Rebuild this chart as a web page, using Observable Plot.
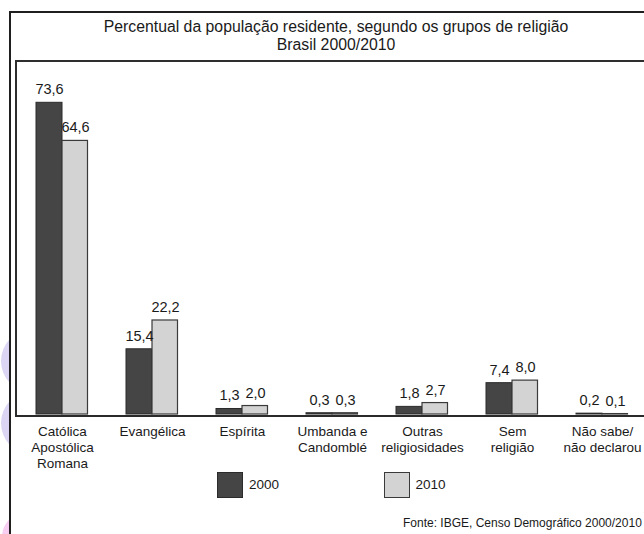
<!DOCTYPE html>
<html>
<head>
<meta charset="utf-8">
<script src="https://cdn.jsdelivr.net/npm/d3@7"></script>
<script src="https://cdn.jsdelivr.net/npm/@observablehq/plot@0.6"></script>
<style>
  html { margin: 0; padding: 0; background: #fff; overflow: hidden; }
  body { margin: 0; padding: 0; height: 534px; background: #fff; position: relative; font-family: "Liberation Sans", Arial, Helvetica, sans-serif; color: #1a1a1a; }
  .ln { position: absolute; background: #1f1f1f; }
  #title { position: absolute; left: 36px; width: 600px; top: 18px; text-align: center; font-size: 15.8px; line-height: 17.5px; }
  #chart { position: absolute; left: 0; top: 0; width: 644px; height: 534px; }
  #wm { position: absolute; left: 0; top: 0; width: 9px; height: 534px; overflow: hidden; }
  .ring { position: absolute; border-radius: 50%; box-sizing: border-box; }
  .sw { position: absolute; width: 26px; height: 26px; box-sizing: border-box; border: 1.3px solid #2a2a2a; }
  .lt { position: absolute; font-size: 13.5px; line-height: 16px; }
  #source { position: absolute; left: 403px; top: 516px; font-size: 12px; white-space: nowrap; }
</style>
</head>
<body>
<div id="wm">
  <div class="ring" style="left:1px; top:330px; width:60px; height:62px; border:11px solid #dcd5f3;"></div>
  <div class="ring" style="left:1px; top:392px; width:60px; height:62px; border:11px solid #dcd5f3;"></div>
  <div class="ring" style="left:2px; top:512px; width:50px; height:50px; border:10px solid #f8cdf2;"></div>
</div>
<div class="ln" style="left:9px; top:11px; width:635px; height:2px;"></div>
<div class="ln" style="left:9px; top:11px; width:2px; height:523px;"></div>
<div class="ln" style="left:15px; top:60.3px; width:629px; height:1.5px; background:#2e2e2e;"></div>
<div class="ln" style="left:15px; top:60.3px; width:1.5px; height:356px; background:#2e2e2e;"></div>
<div class="ln" style="left:15px; top:414.8px; width:629px; height:1.8px; background:#2a2a2a;"></div>
<div id="title"></div>
<div id="chart"></div>
<div id="legend"></div>
<div id="source"></div>
<script>
// ---- data ----
const titleLines = ["Percentual da população residente, segundo os grupos de religião", "Brasil 2000/2010"];
const categories = [
  "Católica\nApostólica\nRomana",
  "Evangélica",
  "Espírita",
  "Umbanda e\nCandomblé",
  "Outras\nreligiosidades",
  "Sem\nreligião",
  "Não sabe/\nnão declarou"
];
const years = ["2000", "2010"];
const values2000 = [73.6, 15.4, 1.3, 0.3, 1.8, 7.4, 0.2];
const values2010 = [64.6, 22.2, 2.0, 0.3, 2.7, 8.0, 0.1];
const sourceText = "Fonte: IBGE, Censo Demográfico 2000/2010";

// ---- styling ----
const fills = {"2000": "#454545", "2010": "#d3d3d3"};
const strokes = {"2000": "#2b2b2b", "2010": "#3a3a3a"};

const rows2000 = categories.map((c, i) => ({category: c, year: "2000", value: values2000[i]}));
const rows2010 = categories.map((c, i) => ({category: c, year: "2010", value: values2010[i]}));
const fmt = v => v.toFixed(1).replace(".", ",");

document.getElementById("title").innerHTML = titleLines.join("<br>");
document.getElementById("source").textContent = sourceText;

const plot = Plot.plot({
  width: 644, height: 534, marginLeft: 16, marginTop: 61, marginBottom: 118.5, marginRight: 0,
  style: {background: "transparent", overflow: "visible", fontFamily: "'Liberation Sans', Arial, sans-serif", color: "#1a1a1a"},
  x: {type: "band", domain: categories, range: [17, 647], padding: 0, axis: null},
  y: {domain: [0, 80], range: [414, 75.2], axis: null},
  marks: [
    Plot.barY(rows2000, {x: "category", y: "value", fill: fills["2000"], stroke: strokes["2000"], strokeWidth: 1, insetLeft: 19, insetRight: 45}),
    Plot.barY(rows2010, {x: "category", y: "value", fill: fills["2010"], stroke: strokes["2010"], strokeWidth: 1.2, insetLeft: 45, insetRight: 19.5}),
    Plot.text(rows2000, {x: "category", y: "value", text: d => fmt(d.value), dx: -13, dy: -8.5, lineAnchor: "bottom", fontSize: 14.5}),
    Plot.text(rows2010, {x: "category", y: "value", text: d => fmt(d.value), dx: 13, dy: -8.5, lineAnchor: "bottom", fontSize: 14.5}),
    Plot.text(categories, {x: d => d, text: d => d, frameAnchor: "bottom", lineAnchor: "top", dy: 8.5, fontSize: 13.5, lineHeight: 1.185})
  ]
});
document.getElementById("chart").appendChild(plot);

// legend
const legend = document.getElementById("legend");
const legendPos = [{sx: 216.5, tx: 249}, {sx: 384, tx: 415.5}];
years.forEach((y, i) => {
  const sw = document.createElement("div");
  sw.className = "sw"; sw.style.left = legendPos[i].sx + "px"; sw.style.top = "472px";
  sw.style.background = fills[y]; sw.style.borderColor = strokes[y];
  legend.appendChild(sw);
  const t = document.createElement("div");
  t.className = "lt"; t.style.left = legendPos[i].tx + "px"; t.style.top = "477px"; t.textContent = y;
  legend.appendChild(t);
});
</script>
</body>
</html>
